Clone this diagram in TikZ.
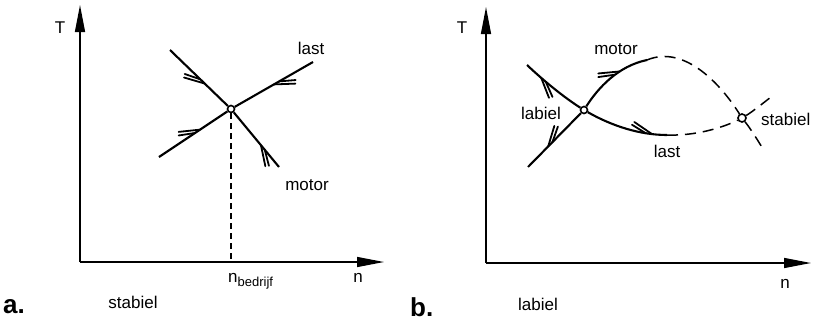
\documentclass[tikz,border=0pt]{standalone}
\usepackage{fontspec}
\setmainfont{Liberation Sans}
\usetikzlibrary{arrows.meta,decorations.markings}
\tikzset{
  lbl/.style={font=\fontsize{17}{19}\selectfont, inner sep=0pt, anchor=base},
  big/.style={font=\fontsize{26}{28}\selectfont\bfseries, inner sep=0pt, anchor=base west},
  axis/.style={line width=1.4pt, -{Triangle[length=27pt,width=10pt]}},
  curve/.style={line width=2.1pt},
  dcurve/.style={line width=1.5pt, dash pattern=on 11pt off 7pt},
  guide/.style={line width=1.1pt, dash pattern=on 6pt off 4pt},
  opnt/.style={circle, draw, line width=1.6pt, fill=white, minimum size=7pt, inner sep=0pt},
  barbL/.style={postaction={decorate}, decoration={markings, mark=at position #1 with {
      \draw[line width=1.8pt, line cap=round] (0pt,0pt) -- (-19pt,10pt);
      \draw[line width=1.8pt, line cap=round] (-6pt,0pt) -- (-21pt,7pt);}}},
  barbR/.style={postaction={decorate}, decoration={markings, mark=at position #1 with {
      \draw[line width=1.8pt, line cap=round] (0pt,0pt) -- (-19pt,-10pt);
      \draw[line width=1.8pt, line cap=round] (-6pt,0pt) -- (-21pt,-7pt);}}},
}
\begin{document}
\begin{tikzpicture}[x=1pt,y=-1pt]
\useasboundingbox (0,0) rectangle (814,325);

% ---------- panel a ----------
\coordinate (oa) at (80,262);
\coordinate (ya) at (80,5);
\coordinate (xa) at (384,262);
\draw[axis] (oa) -- (ya);
\draw[axis] (oa) -- (xa);

\node[opnt] (P) at (231,109) {};
\coordinate (m1) at (170,50);
\coordinate (m2) at (279,167);
\coordinate (l1) at (159,157);
\coordinate (l2) at (313,62);
\coordinate (nb) at (231,262);

\draw[curve, barbR=0.6] (m1) -- (P);
\draw[curve, barbL=0.4] (m2) -- (P);
\draw[curve, barbL=0.6] (l1) -- (P);
\draw[curve, barbL=0.5] (l2) -- (P);
\draw[guide] (P) -- (nb);

\node[lbl] (Ta) at (60,33) {T};
\node[lbl] (lasta) at (311,54) {last};
\node[lbl] (motora) at (307,190) {motor};
\node[lbl, anchor=base west] (nbed) at (228,282) {n\raisebox{-4pt}{\fontsize{13}{14}\selectfont bedrijf}};
\node[lbl] (na) at (358,282) {n};
\node[lbl] (stab) at (133,308) {stabiel};
\node[big] (alab) at (3,313) {a.};

% ---------- panel b ----------
\coordinate (ob) at (486,263);
\coordinate (yb) at (486,7);
\coordinate (xb) at (811,263);
\draw[axis] (ob) -- (yb);
\draw[axis] (ob) -- (xb);

\node[opnt] (Q) at (584,110) {};
\node[opnt, minimum size=8pt] (S) at (742,118) {};
\coordinate (mb1) at (528,167);
\coordinate (mb2) at (647,60);
\coordinate (mb3) at (763,149);
\coordinate (lb1) at (527,65);
\coordinate (lb2) at (667,135);
\coordinate (lb3) at (771,97);

% motor curve
\draw[curve, barbR=0.62] (Q) -- (mb1);
\draw[curve, barbL=0.62] (Q) .. controls (598,88) and (618,66) .. (mb2);
\draw[dcurve] (mb2) .. controls (685,44) and (722,86) .. (S);
\draw[dcurve] (S) .. controls (750,128) and (757,139) .. (mb3);
% last curve
\draw[curve, barbL=0.72] (Q) .. controls (565,98) and (545,82) .. (lb1);
\draw[curve, barbL=0.82] (Q) .. controls (612,126) and (640,135) .. (lb2);
\draw[dcurve] (lb2) .. controls (695,136) and (722,128) .. (S);
\draw[dcurve] (S) .. controls (752,112) and (762,104) .. (lb3);

\node[lbl] (Tb) at (462,33) {T};
\node[lbl] (motorb) at (616,54) {motor};
\node[lbl] (labu) at (541,119) {labiel};
\node[lbl] (lastb) at (667,157) {last};
\node[lbl, anchor=base west] (stabb) at (761,125) {stabiel};
\node[lbl] (nb2) at (785,288) {n};
\node[lbl] (labl) at (538,310) {labiel};
\node[big] (blab) at (410,316) {b.};
\end{tikzpicture}
\end{document}
